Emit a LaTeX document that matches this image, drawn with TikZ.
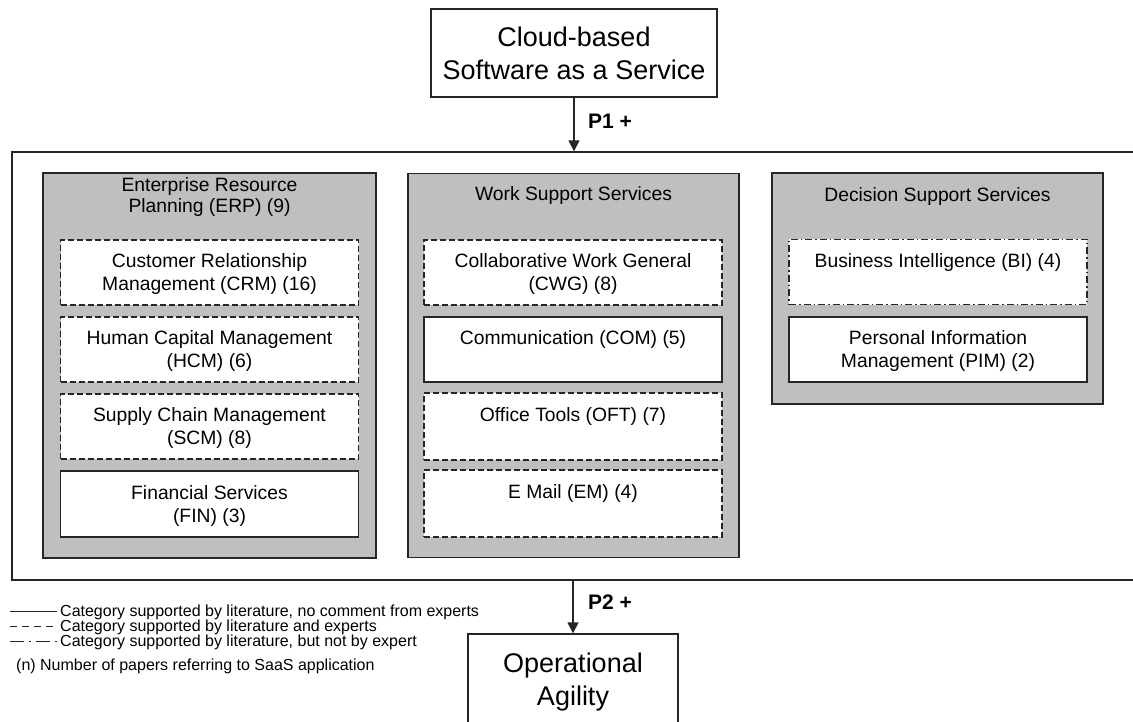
\documentclass[tikz,border=0pt]{standalone}
\usepackage{fontspec}
\setmainfont{Liberation Sans}
\usetikzlibrary{arrows.meta}
\newcommand\twol[2]{\rule{0pt}{20pt}#1\\#2\strut}
\tikzset{
  x=1pt,y=-1pt,
  edgeline/.style={draw=black!85, line width=1.3pt},
  bigbox/.style={edgeline, inner sep=0pt, align=center, font=\fontsize{27}{33}\selectfont},
  outerbox/.style={edgeline, inner sep=0pt},
  groupbox/.style={edgeline, fill=black!25, inner sep=0pt, minimum width=332pt},
  grouptitle/.style={inner sep=0pt, align=center, font=\fontsize{19.3}{21}\selectfont},
  ibox/.style={edgeline, fill=white, minimum width=298pt, minimum height=65pt, inner sep=0pt, align=center, font=\fontsize{19.3}{23}\selectfont},
  solidbox/.style={ibox},
  dashbox/.style={ibox, dash pattern=on 6pt off 3pt},
  dashdotbox/.style={ibox, dash pattern=on 7pt off 3pt on 1.5pt off 3pt},
  arr/.style={draw=black!85, line width=1.3pt, -{Triangle[length=11pt,width=11pt]}},
  plabel/.style={inner sep=0pt, anchor=base west, font=\fontsize{21}{25}\selectfont\bfseries},
  legtext/.style={inner sep=0pt, anchor=base west, font=\fontsize{16}{18}\selectfont},
  legline/.style={draw=black!85, line width=1pt},
}
\begin{document}
\begin{tikzpicture}
\path[use as bounding box] (0,0) rectangle (1133,722);
\clip (0,0) rectangle (1133,722);

% top and bottom boxes
\node[bigbox, minimum width=286pt, minimum height=88pt] (cloud) at (574,53) {Cloud-based\\Software as a Service};
\node[outerbox, minimum width=1133pt, minimum height=428pt] (outer) at (578.5,366) {};
\node[bigbox, minimum width=210pt, minimum height=96pt] (agil) at (573,682) {Operational\\Agility};

% connectors
\draw[arr] (cloud.south) -- (cloud.south |- outer.north);
\draw[arr] (agil.north |- outer.south) -- (agil.north);
\node[plabel] (p1) at (588,128.5) {P1 +};
\node[plabel] (p2) at (588,609.5) {P2 +};

% groups
\node[groupbox, minimum width=333pt, minimum height=385pt] (erp) at (209.5,365.5) {};
\node[groupbox, minimum width=331pt, minimum height=384pt] (wss) at (573.5,365.5) {};
\node[groupbox, minimum width=331pt, minimum height=231pt] (dss) at (937.5,288.5) {};
\node[grouptitle] (erpT) at (209.5,197) {Enterprise Resource\\Planning (ERP) (9)};
\node[grouptitle] (wssT) at (573.5,196) {Work Support Services};
\node[grouptitle] (dssT) at (937.5,197) {Decision Support Services};

% ERP items
\node[dashbox] (crm) at (209.5,272.5) {\twol{Customer Relationship}{Management (CRM) (16)}};
\node[dashbox] (hcm) at (209.5,349.5) {\twol{Human Capital Management}{(HCM) (6)}};
\node[dashbox] (scm) at (209.5,426.5) {\twol{Supply Chain Management}{(SCM) (8)}};
\node[solidbox, minimum height=66pt] (fin) at (209.5,504) {\twol{Financial Services}{(FIN) (3)}};

% WSS items
\node[dashbox] (cwg) at (573,272.5) {\twol{Collaborative Work General}{(CWG) (8)}};
\node[solidbox] (com) at (573,349.5) {\twol{Communication (COM) (5)}{}};
\node[dashbox, minimum height=67pt] (oft) at (573,426.5) {\twol{Office Tools (OFT) (7)}{}};
\node[dashbox, minimum height=67pt] (em) at (573,503.5) {\twol{E Mail (EM) (4)}{}};

% DSS items
\node[dashdotbox] (bi) at (938,272) {\twol{Business Intelligence (BI) (4)}{}};
\node[solidbox] (pim) at (938,349.5) {\twol{Personal Information}{Management (PIM) (2)}};

% legend
\draw[legline] (10,611) -- (57,611);
\draw[legline, dash pattern=on 7pt off 5pt] (10,626) -- (57,626);
\draw[legline, dash pattern=on 14pt off 5pt on 2pt off 5pt] (10,641) -- (57,641);
\node[legtext] (l1) at (60,616.5) {Category supported by literature, no comment from experts};
\node[legtext] (l2) at (60,631.5) {Category supported by literature and experts};
\node[legtext] (l3) at (60,646.5) {Category supported by literature, but not by expert};
\node[legtext] (l4) at (16,670) {(n) Number of papers referring to SaaS application};
\end{tikzpicture}
\end{document}
